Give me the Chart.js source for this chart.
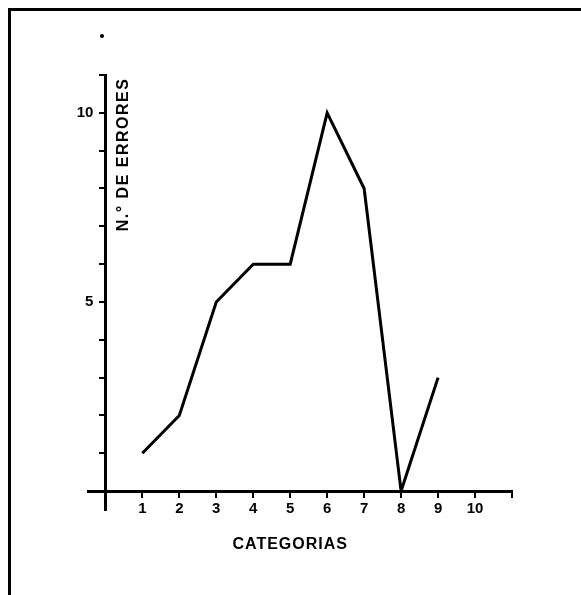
<!DOCTYPE html>
<html>
<head>
<meta charset="utf-8">
<script src="https://cdn.jsdelivr.net/npm/chart.js"></script>
<style>
  body { margin: 0; background: #fff; }
  #wrap { position: relative; width: 581px; height: 595px; }
  #frame { position: absolute; left: 8px; top: 8px; right: 0; bottom: 0; border-top: 3px solid #000; border-left: 3px solid #000; }
</style>
</head>
<body>
<div id="wrap">
  <div id="frame"></div>
  <canvas id="myChart"></canvas>
</div>
<script>
  // data
  const categorias = [1, 2, 3, 4, 5, 6, 7, 8, 9];
  const errores = [1, 2, 5, 6, 6, 10, 8, 0, 3];
  const xTicks = [1, 2, 3, 4, 5, 6, 7, 8, 9, 10, 11];
  const yTicks = [1, 2, 3, 4, 5, 6, 7, 8, 9, 10, 11];
  const yLabels = [5, 10];
  const xLabels = [1, 2, 3, 4, 5, 6, 7, 8, 9, 10];

  const fontCss = 'bold 15px "Liberation Sans", Arial, sans-serif';
  const font = { family: 'Liberation Sans, Arial, sans-serif', size: 15, weight: 'bold' };

  // axis titles + y labels (chart.js puts labels of a centred axis on the line)
  const titles = {
    id: 'titles',
    afterDraw(chart) {
      const ctx = chart.ctx;
      const x = chart.scales.x, y = chart.scales.y;
      const x0 = x.getPixelForValue(0);
      ctx.save();
      ctx.fillStyle = '#000';
      ctx.font = fontCss;
      ctx.textAlign = 'right';
      ctx.textBaseline = 'middle';
      yLabels.forEach(v => ctx.fillText(String(v), x0 - 12, y.getPixelForValue(v)));

      ctx.font = 'bold 16px "Liberation Sans", Arial, sans-serif';
      ctx.textAlign = 'center';
      ctx.letterSpacing = '1px';
      ctx.fillText('CATEGORIAS', x.getPixelForValue(5), 545);
      ctx.translate(x0 + 18, y.getPixelForValue(8.9));
      ctx.rotate(-Math.PI / 2);
      ctx.letterSpacing = '1.5px';
      ctx.fillText('N.° DE ERRORES', 0, 0);
      ctx.restore();
      // stray dot in the scan
      ctx.beginPath();
      ctx.arc(102, 36, 2, 0, Math.PI * 2);
      ctx.fill();
    }
  };

  new Chart(document.getElementById('myChart'), {
    type: 'line',
    data: {
      datasets: [{
        data: categorias.map((c, i) => ({ x: c, y: errores[i] })),
        borderColor: '#000',
        borderWidth: 3,
        pointRadius: 0,
        tension: 0,
        fill: false
      }]
    },
    options: {
      responsive: true,
      maintainAspectRatio: false,
      animation: false,
      layout: { padding: { left: 88, right: 69, top: 75, bottom: 85 } },
      plugins: { legend: { display: false }, tooltip: { enabled: false } },
      scales: {
        x: {
          type: 'linear',
          min: -0.47,
          max: 11,
          position: { y: 0 },
          afterFit: s => { s.height = 0; },
          afterBuildTicks: s => { s.ticks = xTicks.map(v => ({ value: v })); },
          border: { color: '#000', width: 3 },
          grid: { drawOnChartArea: false, color: '#000', lineWidth: 2, tickLength: 5 },
          ticks: {
            color: '#000', font: font, padding: 4, maxRotation: 0, autoSkip: false,
            callback: v => xLabels.includes(v) ? String(v) : ''
          }
        },
        y: {
          type: 'linear',
          min: -0.5,
          max: 11,
          position: { x: 0 },
          afterFit: s => { s.width = 0; },
          afterBuildTicks: s => { s.ticks = yTicks.map(v => ({ value: v })); },
          border: { color: '#000', width: 3 },
          grid: { drawOnChartArea: false, color: '#000', lineWidth: 2, tickLength: 5 },
          ticks: { display: false }
        }
      }
    },
    plugins: [titles]
  });
</script>
</body>
</html>
